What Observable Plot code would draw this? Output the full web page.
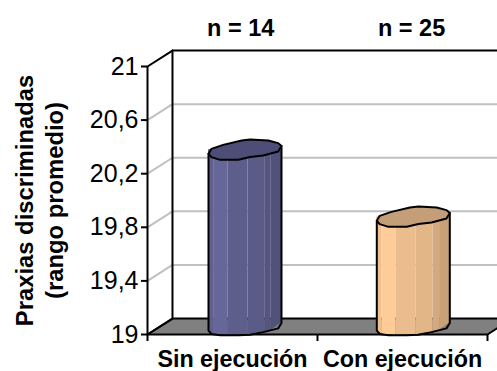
<!DOCTYPE html>
<html><head><meta charset="utf-8">
<script src="https://cdn.jsdelivr.net/npm/d3@7"></script>
<script src="https://cdn.jsdelivr.net/npm/@observablehq/plot@0.6"></script>
<style>html,body{margin:0;padding:0;background:#fff}svg{display:block}</style>
</head><body><div id="chart"></div>
<script>
const categories = ["Sin ejecución", "Con ejecución"];
const values = [20.32, 19.82];
const sampleLabels = ["n = 14", "n = 25"];
const yTicks = [19, 19.4, 19.8, 20.2, 20.6, 21];
const tickLabels = ["19", "19,4", "19,8", "20,2", "20,6", "21"];
const titleLines = "Praxias discriminadas\n(rango promedio)";

// Oblique depth of the 3D box and cylinder size, in scale units
const depthX = 0.147, depthY = 0.119;
const radiusX = 0.2147, radiusY = 0.076;
const slots = [0.5, 1.49];

// Hand-traced outline of the cylinder cap and base (fractions of the radii)
const capU = [-1,-0.92,-0.6,-0.09,0.14,0.64,0.91,1,0.91,0.5,0.14,-0.18,-0.68,-0.92,-1];
const capV = [0.4,-0.08,-0.47,-0.9,-1,-0.9,-0.64,-0.35,0.18,0.57,0.73,1,1,0.73,0.4];
const baseU = [-1,-0.92,-0.68,-0.18,0.14,0.5,0.91,1];
const baseV = [0.4,0.73,0.85,0.85,0.8,0.55,0.18,-0.35];

// Vertical shading bands across the cylinder
const bandEdges = [-1,-0.86,-0.47,0.08,0.54,0.72,1];
const bandShade = [0.94,1,0.92,0.89,0.83,0.79];
const barColors = [[102,102,153],[255,204,153]];
const capColors = ["#4d4d78","#c49e78"];

const baseAt = d3.scaleLinear(baseU, baseV);
const centerX = i => slots[i] + depthX / 2;
const shade = (c, s) => d3.rgb(c[0]*s, c[1]*s, c[2]*s).formatHex();

const grid = yTicks.slice(1).flatMap(v => [
  {k:v, x:0, y:v},
  {k:v, x:depthX, y:v+depthY},
  {k:v, x:2+depthX, y:v+depthY}
]).filter(d => d.k < 21);
const floor = [[0,19],[2,19],[2+depthX,19+depthY],[depthX,19+depthY],[0,19]].map(([x,y]) => ({x,y}));
const wall = [[0,21],[depthX,21+depthY],[2+depthX,21+depthY]].map(([x,y]) => ({x,y}));
const wallEdge = [[0,19],[depthX,19+depthY],[depthX,21+depthY]].map(([x,y]) => ({x,y}));

const bands = [], outlines = [], caps = [];
values.forEach((v, i) => {
  const topC = v + depthY/2, botC = 19 + depthY/2, xc = centerX(i);
  bandShade.forEach((s, b) => {
    [bandEdges[b], bandEdges[b+1]].forEach(u => {
      bands.push({key:`${i}-${b}`, x: xc + u*radiusX, y1: botC - baseAt(u)*radiusY, y2: topC, fill: shade(barColors[i], s)});
    });
  });
  const o = baseU.map((u, j) => ({i, x: xc + u*radiusX, y: botC - baseV[j]*radiusY}));
  outlines.push(
    ...[{i, x: xc - radiusX, y: topC - 0.4*radiusY}].concat(o, [{i, x: xc + radiusX, y: topC + 0.35*radiusY}])
  );
  capU.forEach((u, j) => caps.push({i, x: xc + u*radiusX, y: topC - capV[j]*radiusY, fill: capColors[i]}));
});

const plot = Plot.plot({
  width: 497, height: 371,
  marginLeft: 147, marginRight: 10, marginTop: 66, marginBottom: 37,
  x: {domain: [0, 2]},
  y: {domain: [19, 21]},
  style: {fontFamily: "'Liberation Sans', Arial, sans-serif", color: "#000", background: "#fff"},
  marks: [
    Plot.line(grid, {x:"x", y:"y", z:"k", stroke:"#c0c0c0", strokeWidth:2}),
    Plot.line(floor, {x:"x", y:"y", fill:"#808080", stroke:"#000", strokeWidth:2}),
    Plot.line(wall, {x:"x", y:"y", stroke:"#000", strokeWidth:2}),
    Plot.line(wallEdge, {x:"x", y:"y", stroke:"#000", strokeWidth:2}),
    Plot.ruleX([0], {y1:19, y2:21, stroke:"#000", strokeWidth:2}),
    Plot.axisY({ticks:yTicks, tickSize:6, tickPadding:3, fontSize:25, label:null,
      tickFormat:d => tickLabels[yTicks.indexOf(d)], strokeWidth:2, stroke:"#000", fill:"#000"}),
    Plot.axisX({ticks:[0,1,2], tickSize:7, tickFormat:()=>"", label:null, strokeWidth:2, stroke:"#000"}),
    Plot.areaY(bands, {x:"x", y1:"y1", y2:"y2", z:"key", fill:"fill"}),
    Plot.line(outlines, {x:"x", y:"y", z:"i", stroke:"#000", strokeWidth:2}),
    Plot.line(caps, {x:"x", y:"y", z:"i", fill:"fill", stroke:"#000", strokeWidth:2}),
    Plot.text(categories, {x:(d,i)=>i+0.5, y:()=>19, text:d=>d, dy:25, fontSize:23.3, fontWeight:"bold", fill:"#000"}),
    Plot.text(sampleLabels, {x:(d,i)=>centerX(i)-(i?0.01:0.025), y:()=>21, text:d=>d, dy:-38, fontSize:23.5, fontWeight:"bold", fill:"#000"}),
    Plot.text([titleLines], {x:()=>0, y:()=>20, text:d=>d, dx:-109, rotate:-90, fontSize:23.8, fontWeight:"bold", lineHeight:1.27, fill:"#000"})
  ]
});
document.getElementById("chart").append(plot);
</script></body></html>
